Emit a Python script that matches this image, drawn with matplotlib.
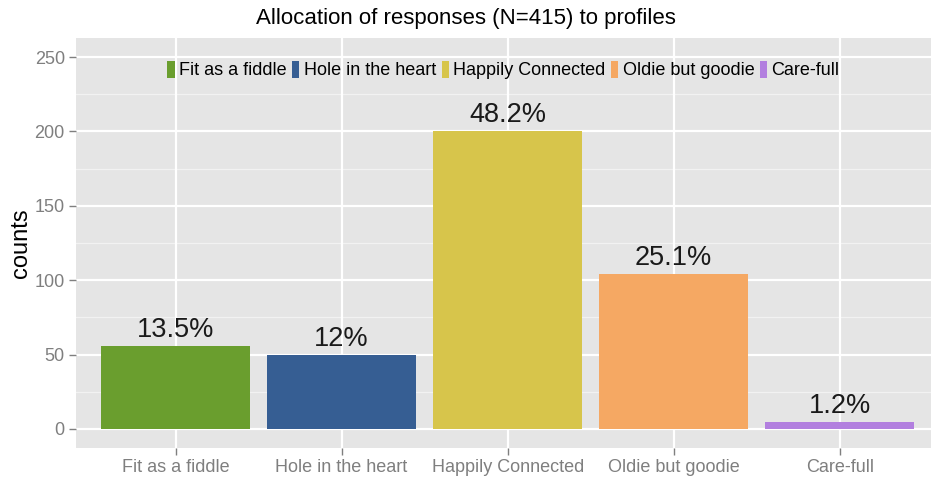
import numpy as np
import matplotlib
matplotlib.use('Agg')
import matplotlib.pyplot as plt
from matplotlib.patches import Patch

plt.rcParams['font.family'] = ['Liberation Sans', 'DejaVu Sans']

profiles = ['Fit as a fiddle', 'Hole in the heart', 'Happily Connected',
            'Oldie but goodie', 'Care-full']
counts = [56, 50, 200, 104, 5]
pct_labels = ['13.5%', '12%', '48.2%', '25.1%', '1.2%']
colors = ['#6A9E2E', '#365E93', '#D7C54B', '#F5A863', '#B27FDF']
y_ticks = [0, 50, 100, 150, 200, 250]

fig = plt.figure(figsize=(9.31, 4.82), dpi=100)
ax = fig.add_axes([0.0816, 0.0714, 0.9184, 0.8489])
ax.set_facecolor('#E5E5E5')

x = np.arange(1, len(profiles) + 1)

# grid: minor lines halfway between the major ones
for yv in np.arange(25, 275, 50):
    ax.axhline(yv, color='#F2F2F2', lw=0.9, zorder=0)
for yv in y_ticks:
    ax.axhline(yv, color='white', lw=1.6, zorder=0)
for xv in x:
    ax.axvline(xv, color='white', lw=1.6, zorder=0)

bars = ax.bar(x, counts, width=0.9, color=colors, zorder=2)
for xi, c, lab in zip(x, counts, pct_labels):
    ax.annotate(lab, (xi, c), xytext=(0, 6.5), textcoords='offset points',
                ha='center', va='baseline', fontsize=19.5, color='#1A1A1A', zorder=3)

ax.set_xlim(0.4, 5.55)
ax.set_ylim(-12.5, 262.5)
ax.set_xticks(x)
ax.set_xticklabels(profiles)
ax.set_yticks(y_ticks)
ax.tick_params(axis='both', colors='#7F7F7F', labelsize=13, length=5, width=1)
ax.tick_params(axis='x', pad=3)
ax.tick_params(axis='y', pad=3)
for sp in ax.spines.values():
    sp.set_visible(False)

ax.set_ylabel('counts', fontsize=17, color='black', labelpad=2)
fig.text(0.5, 0.962, 'Allocation of responses (N=415) to profiles',
         fontsize=16, ha='center', va='center')

handles = [Patch(facecolor=c, edgecolor='none') for c in colors]
ax.legend(handles, profiles, ncol=5, loc='center', bbox_to_anchor=(0.5, 0.923),
          frameon=False, fontsize=13, handlelength=0.4, handleheight=1.1,
          handletextpad=0.25, columnspacing=0.3, borderaxespad=0)

fig.savefig('out.png', dpi=100)
